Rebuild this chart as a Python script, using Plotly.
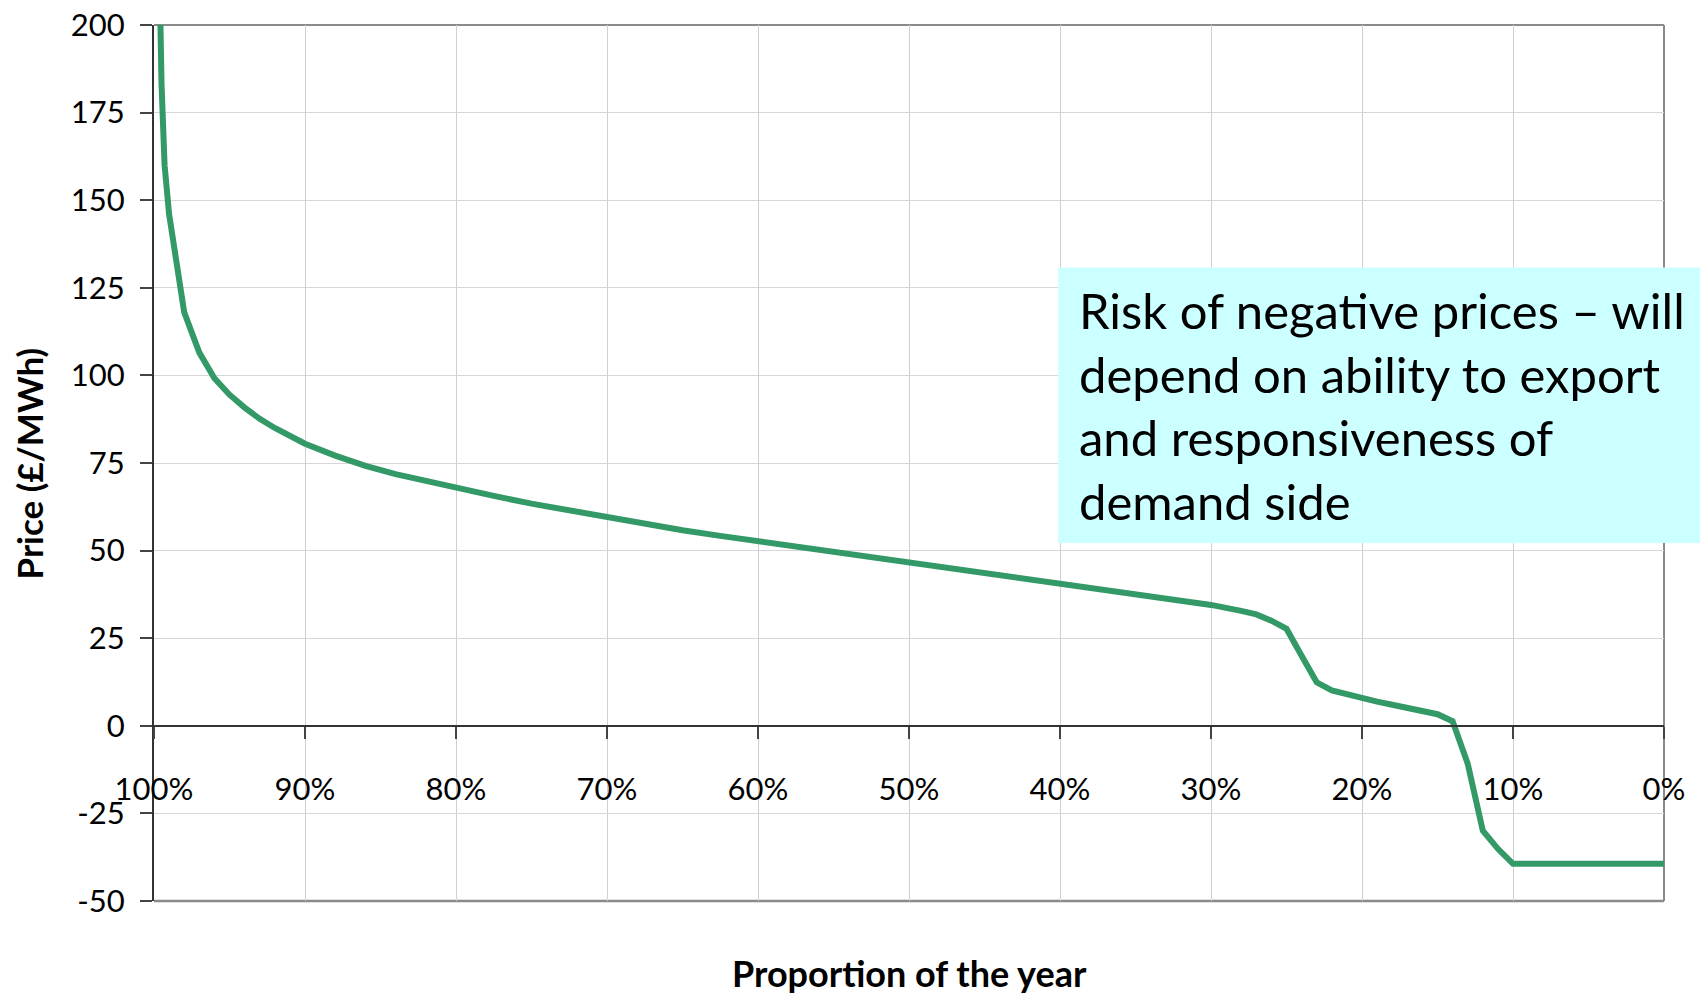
import plotly.graph_objects as go

# Proportion of the year (%) and price (£/MWh)
proportion = [99.7, 99.6, 99.5, 99.3, 99.0, 98.0, 97.0, 96.0, 95.0, 94.0, 93.0, 92.0, 91.0,
              90.0, 88.0, 86.0, 84.0, 82.0, 80.0, 77.5, 75.0, 72.5, 70.0, 67.5, 65.0, 62.5,
              60.0, 55.0, 50.0, 45.0, 40.0, 35.0, 30.0, 28.0, 27.0, 26.0, 25.0, 24.0, 23.0,
              22.0, 21.0, 20.0, 19.0, 18.0, 17.0, 16.0, 15.0, 14.0, 13.0, 12.0, 11.0, 10.0, 0.0]
price = [230, 200, 183, 160, 146, 118, 106.5, 99.2, 94.5, 90.8, 87.6, 85.0, 82.7,
         80.5, 77.1, 74.2, 71.8, 69.8, 67.9, 65.6, 63.4, 61.4, 59.5, 57.5, 55.8, 54.2,
         52.7, 49.8, 46.9, 43.8, 40.7, 37.6, 34.5, 32.8, 31.8, 30.0, 27.7, 20.0, 12.4,
         10.1, 8.9, 7.7, 6.9, 6.0, 5.2, 4.3, 3.3, 1.3, -10.8, -29.9, -35.1, -39.4, -39.4]

x_tickvals = [100, 90, 80, 70, 60, 50, 40, 30, 20, 10, 0]
x_ticktext = ["100%", "90%", "80%", "70%", "60%", "50%", "40%", "30%", "20%", "10%", "0%"]
y_tickvals = [200, 175, 150, 125, 100, 75, 50, 25, 0, -25, -50]
y_ticktext = ["200", "175", "150", "125", "100", "75", "50", "25", "0", "-25", "-50"]

x_title = "Proportion of the year"
y_title = "Price (£/MWh)"
note_text = ("Risk of negative prices – will<br>depend on ability to export<br>"
             "and responsiveness of<br>demand side")

FONT = "Lato"

fig = go.Figure()
fig.add_trace(go.Scatter(
    x=proportion, y=price, mode="lines",
    line=dict(color="#339966", width=6),
    showlegend=False, hoverinfo="skip",
))

fig.update_layout(
    template="none",
    width=1700, height=997,
    margin=dict(l=154, r=36, t=25, b=96, pad=0, autoexpand=False),
    paper_bgcolor="white", plot_bgcolor="white",
    font=dict(family=FONT, color="black"),
    xaxis=dict(
        range=[100, 0], anchor="free", position=0.2, automargin=False,
        tickvals=x_tickvals, ticktext=x_ticktext,
        tickfont=dict(size=31, family=FONT, color="black"),
        ticks="outside", ticklen=12, tickwidth=1.5, tickcolor="#444",
        ticklabelstandoff=24, ticklabeloverflow="allow",
        showline=True, linecolor="#333", linewidth=1.5,
        showgrid=True, gridcolor="#d0d0d0", gridwidth=1,
        zeroline=False,
    ),
    yaxis=dict(
        range=[-50, 200], automargin=False,
        tickvals=y_tickvals, ticktext=y_ticktext,
        tickfont=dict(size=31, family=FONT, color="black"),
        ticks="outside", ticklen=12, tickwidth=1.5, tickcolor="#444",
        ticklabelstandoff=9, ticklabeloverflow="allow",
        showline=True, linecolor="#333", linewidth=2,
        showgrid=True, gridcolor="#d6d6d6", gridwidth=1,
        zeroline=False,
    ),
    shapes=[
        # frame: top, right, bottom
        dict(type="line", xref="paper", yref="paper", x0=0, x1=1, y0=1, y1=1,
             line=dict(color="#8a8a8a", width=2), layer="below"),
        dict(type="line", xref="paper", yref="paper", x0=1, x1=1, y0=0, y1=1,
             line=dict(color="#8a8a8a", width=2), layer="below"),
        dict(type="line", xref="paper", yref="paper", x0=0, x1=1, y0=0, y1=0,
             line=dict(color="#8a8a8a", width=2.5), layer="below"),
        # annotation box
        dict(type="rect", xref="paper", yref="paper",
             x0=0.5987, x1=1.04, y0=0.4087, y1=0.7231,
             fillcolor="#ccffff", line=dict(width=0), layer="above"),
    ],
    annotations=[
        dict(text=note_text, xref="paper", yref="paper", x=0.6115, y=0.566,
             xanchor="left", yanchor="middle", align="left", showarrow=False,
             font=dict(size=49, family=FONT, color="black")),
        dict(text="<b>" + x_title + "</b>", xref="paper", yref="paper",
             x=0.5, y=-0.0822, xanchor="center", yanchor="middle", showarrow=False,
             font=dict(size=36, family=FONT, color="black")),
        dict(text="<b>" + y_title + "</b>", xref="paper", yref="paper",
             x=-0.0825, y=0.5, xanchor="center", yanchor="middle", showarrow=False,
             textangle=-90, font=dict(size=35, family=FONT, color="black")),
    ],
)

# remove the browser's default 8px page margin so the figure sits at the top-left corner
fig.write_html("out.html", config={"displayModeBar": False},
               post_script="document.body.style.margin='0';")
